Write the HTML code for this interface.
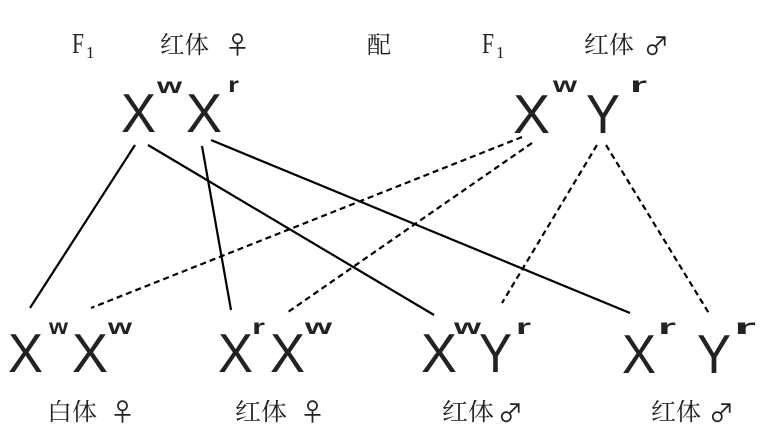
<!DOCTYPE html>
<html><head><meta charset="utf-8"><style>
html,body{margin:0;padding:0;background:#fff;}
svg{display:block;}
.g{font-family:"Liberation Sans","DejaVu Sans",sans-serif;font-size:55px;fill:#222;}
.s{font-family:"Liberation Sans","DejaVu Sans",sans-serif;font-size:21px;font-weight:bold;fill:#222;}
.c{font-family:"Liberation Serif","Noto Serif CJK SC",serif;font-size:24px;fill:#222;}
.f{font-family:"Liberation Serif",serif;font-size:29px;fill:#222;}
.f1{font-family:"Liberation Serif",serif;font-size:17px;fill:#222;}
.sym{font-family:"Noto Sans CJK SC","DejaVu Sans",sans-serif;font-size:25px;fill:#222;}
</style></head><body>
<svg width="769" height="439" viewBox="0 0 769 439" xmlns="http://www.w3.org/2000/svg">
<!-- top labels -->
<text class="f" x="72" y="53" textLength="12" lengthAdjust="spacingAndGlyphs">F</text>
<text class="f1" x="86" y="58">1</text>
<text class="c" x="160" y="53" textLength="49" lengthAdjust="spacingAndGlyphs">红体</text>
<text class="sym" x="225" y="54">♀</text>
<text class="c" x="367" y="53">配</text>
<text class="f" x="482" y="53" textLength="12" lengthAdjust="spacingAndGlyphs">F</text>
<text class="f1" x="496" y="58">1</text>
<text class="c" x="584" y="53" textLength="50" lengthAdjust="spacingAndGlyphs">红体</text>
<text class="sym" x="644" y="55">♂</text>

<!-- top genotypes -->
<text class="g" x="121" y="132" textLength="35" lengthAdjust="spacingAndGlyphs">X</text>
<text class="s" x="157" y="93" textLength="25" lengthAdjust="spacingAndGlyphs">w</text>
<text class="g" x="186" y="132" textLength="36" lengthAdjust="spacingAndGlyphs">X</text>
<text class="s" x="228" y="92" textLength="11" lengthAdjust="spacingAndGlyphs">r</text>

<text class="g" x="513" y="133" textLength="37" lengthAdjust="spacingAndGlyphs">X</text>
<text class="s" x="553" y="92" textLength="24" lengthAdjust="spacingAndGlyphs">w</text>
<text class="g" x="586" y="133" textLength="34" lengthAdjust="spacingAndGlyphs">Y</text>
<text class="s" x="630" y="92" textLength="17" lengthAdjust="spacingAndGlyphs">r</text>

<!-- solid lines -->
<g stroke="#000" stroke-width="2.2" fill="none">
<line x1="135" y1="145" x2="30" y2="308"/>
<line x1="148" y1="145" x2="434" y2="315"/>
<line x1="202" y1="146" x2="231" y2="310"/>
<line x1="211" y1="140" x2="630" y2="313"/>
</g>
<!-- dashed lines -->
<g stroke="#000" stroke-width="2.2" fill="none" stroke-dasharray="6,4">
<line x1="522" y1="137" x2="91" y2="308"/>
<line x1="532" y1="143" x2="288" y2="312"/>
<line x1="597" y1="145" x2="502" y2="303"/>
<line x1="606" y1="145" x2="710" y2="315"/>
</g>

<!-- bottom genotypes -->
<text class="g" x="8" y="372" textLength="35" lengthAdjust="spacingAndGlyphs">X</text>
<text class="s" x="49" y="334" textLength="19" lengthAdjust="spacingAndGlyphs">w</text>
<text class="g" x="72" y="372" textLength="36" lengthAdjust="spacingAndGlyphs">X</text>
<text class="s" x="108" y="334" textLength="24" lengthAdjust="spacingAndGlyphs">w</text>

<text class="g" x="218" y="372" textLength="35" lengthAdjust="spacingAndGlyphs">X</text>
<text class="s" x="252" y="334" textLength="13" lengthAdjust="spacingAndGlyphs">r</text>
<text class="g" x="270" y="372" textLength="35" lengthAdjust="spacingAndGlyphs">X</text>
<text class="s" x="305" y="334" textLength="27" lengthAdjust="spacingAndGlyphs">w</text>

<text class="g" x="421" y="372" textLength="36" lengthAdjust="spacingAndGlyphs">X</text>
<text class="s" x="454" y="334" textLength="27" lengthAdjust="spacingAndGlyphs">w</text>
<text class="g" x="479" y="372" textLength="33" lengthAdjust="spacingAndGlyphs">Y</text>
<text class="s" x="516" y="334" textLength="15" lengthAdjust="spacingAndGlyphs">r</text>

<text class="g" x="622" y="373" textLength="34" lengthAdjust="spacingAndGlyphs">X</text>
<text class="s" x="658" y="334" textLength="18" lengthAdjust="spacingAndGlyphs">r</text>
<text class="g" x="697" y="373" textLength="34" lengthAdjust="spacingAndGlyphs">Y</text>
<text class="s" x="734" y="334" textLength="22" lengthAdjust="spacingAndGlyphs">r</text>

<!-- bottom labels -->
<text class="c" x="47" y="420" textLength="50" lengthAdjust="spacingAndGlyphs">白体</text>
<text class="sym" x="110" y="421">♀</text>
<text class="c" x="235" y="420" textLength="52" lengthAdjust="spacingAndGlyphs">红体</text>
<text class="sym" x="300" y="421">♀</text>
<text class="c" x="442" y="420" textLength="52" lengthAdjust="spacingAndGlyphs">红体</text>
<text class="sym" x="498" y="422">♂</text>
<text class="c" x="651" y="420" textLength="50" lengthAdjust="spacingAndGlyphs">红体</text>
<text class="sym" x="709" y="422">♂</text>
</svg>
</body></html>
